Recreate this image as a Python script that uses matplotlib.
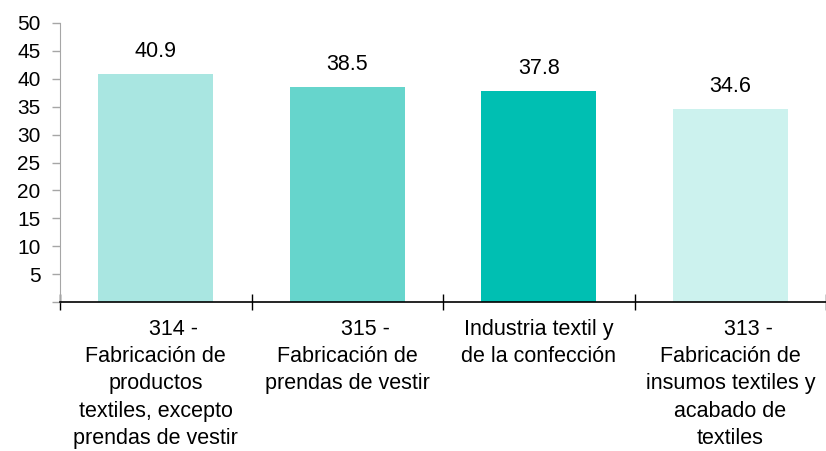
import matplotlib
matplotlib.use("Agg")
import matplotlib.pyplot as plt
from matplotlib.ticker import FixedLocator, FuncFormatter

categories = [
    "      314 -\nFabricación de\nproductos\ntextiles, excepto\nprendas de vestir",
    "      315 -\nFabricación de\nprendas de vestir",
    "Industria textil y\nde la confección",
    "      313 -\nFabricación de\ninsumos textiles y\nacabado de\ntextiles",
]
values = [40.9, 38.5, 37.8, 34.6]
colors = ["#A9E6E1", "#66D5CC", "#00BFB2", "#CCF2EE"]
yticks = [0, 5, 10, 15, 20, 25, 30, 35, 40, 45, 50]

plt.rcParams['font.family'] = ['Liberation Sans', 'DejaVu Sans']

fig = plt.figure(figsize=(8.26, 4.51), dpi=100)
ax = fig.add_axes([60/826, 149/451, 766/826, 279/451])

x = list(range(len(values)))
ax.bar(x, values, width=0.6, color=colors, zorder=2)
ax.set_xlim(-0.5, len(values) - 0.5)
ax.set_ylim(0, 50)

for xi, v in zip(x, values):
    ax.annotate(f"{v:.1f}", (xi, v), xytext=(0, 17), textcoords='offset pixels',
                ha='center', va='baseline', fontsize=15.5, color='black')

for s in ['top', 'right']:
    ax.spines[s].set_visible(False)
ax.spines['left'].set_color('#A6A6A6')
ax.spines['bottom'].set_color('black')
ax.spines['bottom'].set_linewidth(1.2)

ax.yaxis.set_major_locator(FixedLocator(yticks))
ax.yaxis.set_major_formatter(FuncFormatter(lambda v, p: "" if v == 0 else f"{int(v)}"))
ax.tick_params(axis='y', direction='out', length=6, width=1, color='#A6A6A6',
               labelsize=15, pad=8)

ax.set_xticks([i - 0.5 for i in range(len(values) + 1)])
ax.set_xticklabels([])
ax.tick_params(axis='x', which='major', direction='inout', length=12, width=1, color='black')
ax.set_xticks(x, minor=True)
ax.set_xticklabels(categories, minor=True, fontsize=15.5, linespacing=1.4)
ax.tick_params(axis='x', which='minor', length=0, pad=12)

fig.savefig("out.png", dpi=100)
